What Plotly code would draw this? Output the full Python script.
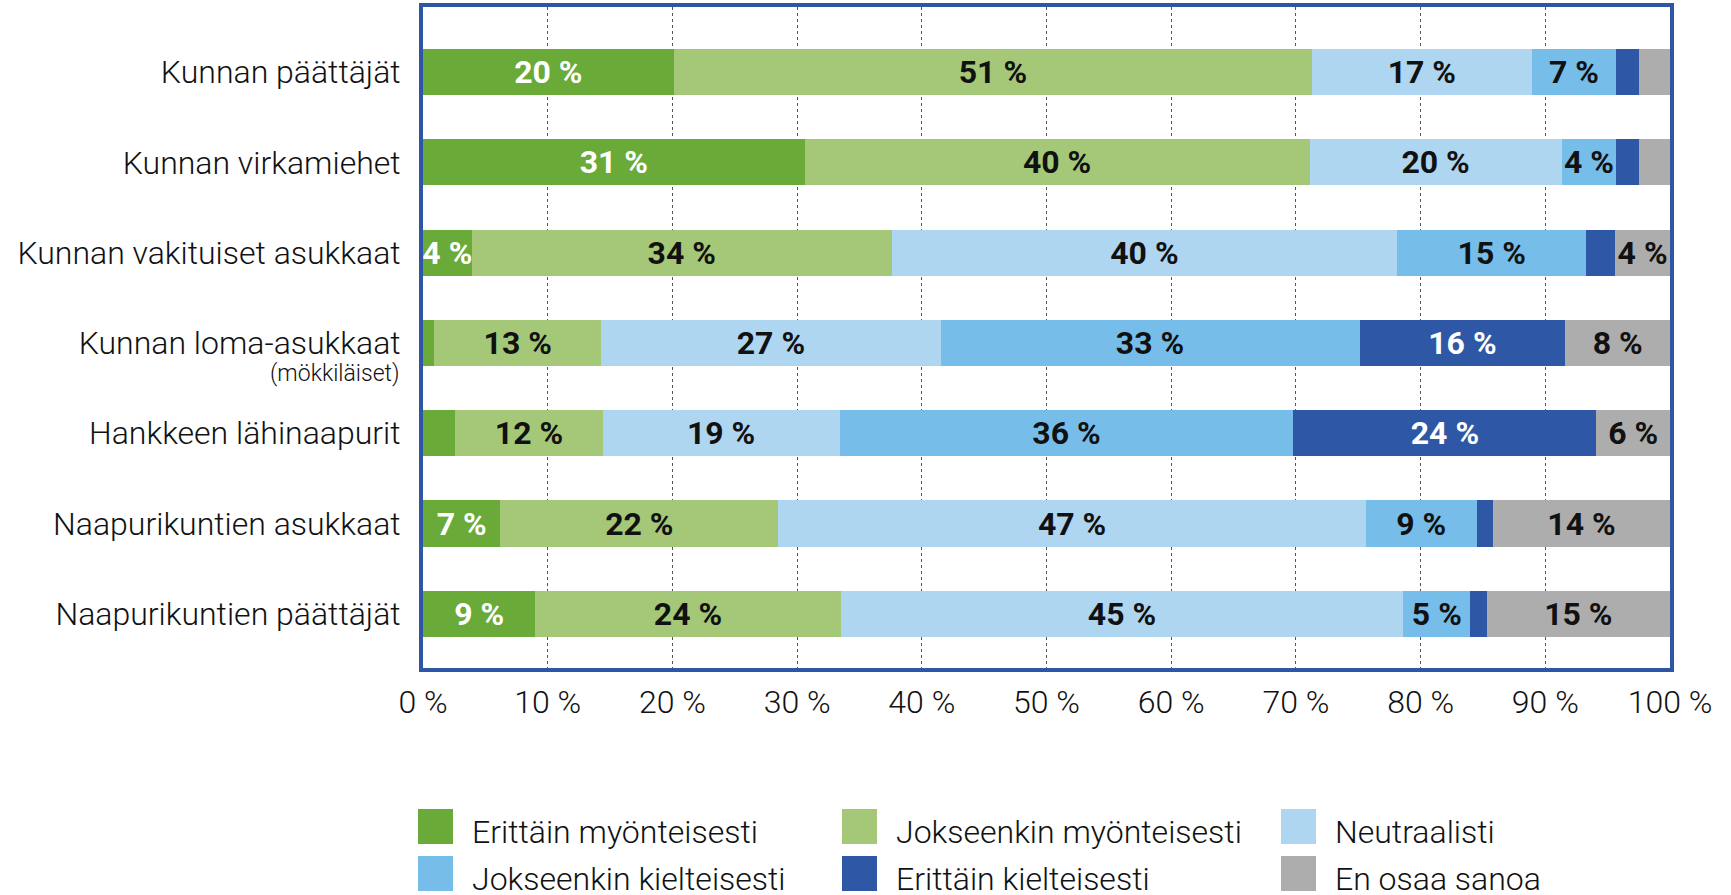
import plotly.graph_objects as go

categories = ["Kunnan päättäjät", "Kunnan virkamiehet", "Kunnan vakituiset asukkaat",
              "Kunnan loma-asukkaat", "Hankkeen lähinaapurit", "Naapurikuntien asukkaat",
              "Naapurikuntien päättäjät"]
sublabel = "(mökkiläiset)"

series_names = ["Erittäin myönteisesti", "Jokseenkin myönteisesti", "Neutraalisti",
                "Jokseenkin kielteisesti", "Erittäin kielteisesti", "En osaa sanoa"]

erittain_myonteisesti = [20.1, 30.6, 3.9, 0.9, 2.6, 6.2, 9.0]
jokseenkin_myonteisesti = [51.2, 40.5, 33.7, 13.4, 11.8, 22.3, 24.5]
neutraalisti = [17.6, 20.2, 40.5, 27.2, 19.0, 47.1, 45.1]
jokseenkin_kielteisesti = [6.8, 4.4, 15.2, 33.6, 36.4, 8.9, 5.4]
erittain_kielteisesti = [1.8, 1.8, 2.3, 16.5, 24.3, 1.3, 1.3]
en_osaa_sanoa = [2.5, 2.5, 4.4, 8.4, 5.9, 14.2, 14.7]

labels_erittain_myonteisesti = ["20 %", "31 %", "4 %", "", "", "7 %", "9 %"]
labels_jokseenkin_myonteisesti = ["51 %", "40 %", "34 %", "13 %", "12 %", "22 %", "24 %"]
labels_neutraalisti = ["17 %", "20 %", "40 %", "27 %", "19 %", "47 %", "45 %"]
labels_jokseenkin_kielteisesti = ["7 %", "4 %", "15 %", "33 %", "36 %", "9 %", "5 %"]
labels_erittain_kielteisesti = ["", "", "", "16 %", "24 %", "", ""]
labels_en_osaa_sanoa = ["", "", "4 %", "8 %", "6 %", "14 %", "15 %"]

x_ticks = [0, 10, 20, 30, 40, 50, 60, 70, 80, 90, 100]
x_ticklabels = ["0 %", "10 %", "20 %", "30 %", "40 %", "50 %", "60 %", "70 %", "80 %", "90 %", "100 %"]

colors = ["#69aa39", "#a4c878", "#aed6f1", "#77bde9", "#2e57a6", "#adadad"]
text_colors = ["white", "#111111", "#111111", "#111111", "white", "#111111"]

values = [erittain_myonteisesti, jokseenkin_myonteisesti, neutraalisti,
          jokseenkin_kielteisesti, erittain_kielteisesti, en_osaa_sanoa]
labels = [labels_erittain_myonteisesti, labels_jokseenkin_myonteisesti, labels_neutraalisti,
          labels_jokseenkin_kielteisesti, labels_erittain_kielteisesti, labels_en_osaa_sanoa]

FONT = "Roboto"
W, H = 1731, 895
L, R, T, B = 423, 61, 7, 227
PW, PH = W - L - R, H - T - B

fig = go.Figure()
for name, vals, labs, col, tcol in zip(series_names, values, labels, colors, text_colors):
    fig.add_trace(go.Bar(
        name=name, y=categories, x=vals, orientation="h",
        marker=dict(color=col, line=dict(width=0)),
        text=labs, textposition="inside", insidetextanchor="middle", textangle=0,
        textfont=dict(family=FONT, size=32, color=tcol, weight=700),
        showlegend=False, hoverinfo="x+name",
    ))

frame_color = "#2f56a5"
fig.update_layout(
    width=W, height=H,
    margin=dict(l=L, r=R, t=T, b=B, pad=0, autoexpand=False),
    barmode="stack", bargap=0.49,
    plot_bgcolor="white", paper_bgcolor="white",
    uniformtext=dict(mode="show", minsize=32),
    font=dict(family=FONT, size=32, color="#111111", weight=300),
    xaxis=dict(range=[0, 100], tickvals=x_ticks, ticktext=x_ticklabels, automargin=False,
               showgrid=True, gridcolor="#555555", gridwidth=1, griddash="3px,3px",
               zeroline=False, showline=True, linecolor=frame_color, linewidth=4, mirror=True,
               ticks="", ticklabelstandoff=3,
               tickfont=dict(family=FONT, size=32, color="#111111", weight=300)),
    yaxis=dict(categoryorder="array", categoryarray=categories, range=[6.6, -0.72],
               automargin=False,
               showgrid=False, zeroline=False, showline=True, linecolor=frame_color,
               linewidth=4, mirror=True, ticks="", ticklabelstandoff=12,
               tickfont=dict(family=FONT, size=32, color="#111111", weight=300)),
)

# sub-label under "Kunnan loma-asukkaat"
fig.add_annotation(text=sublabel, xref="paper", x=0, xanchor="right", xshift=-22,
                   yref="y", y=3, yanchor="middle", yshift=-31, showarrow=False,
                   font=dict(family=FONT, size=23, color="#111111", weight=300))

# legend: 3 columns x 2 rows (swatch + text)
def px_to_paper_x(px):
    return (px - L) / PW

def px_to_paper_y(py):
    return (H - B - py) / PH

col_x = [418, 842, 1281]
row_y = [809, 856]
sw = 35
for i, (name, col) in enumerate(zip(series_names, colors)):
    cx = col_x[i % 3]
    ry = row_y[i // 3]
    fig.add_shape(type="rect", xref="paper", yref="paper",
                  x0=px_to_paper_x(cx), x1=px_to_paper_x(cx + sw),
                  y0=px_to_paper_y(ry + sw), y1=px_to_paper_y(ry),
                  fillcolor=col, line=dict(width=0))
    fig.add_annotation(text=name, xref="paper", yref="paper",
                       x=px_to_paper_x(cx + sw + 17), xanchor="left",
                       y=px_to_paper_y(ry + 23), yanchor="middle",
                       showarrow=False,
                       font=dict(family=FONT, size=32, color="#111111", weight=300))

fig.write_html("out.html", config={"displayModeBar": False},
               post_script="document.body.style.margin='0px';document.body.style.overflow='hidden';")
